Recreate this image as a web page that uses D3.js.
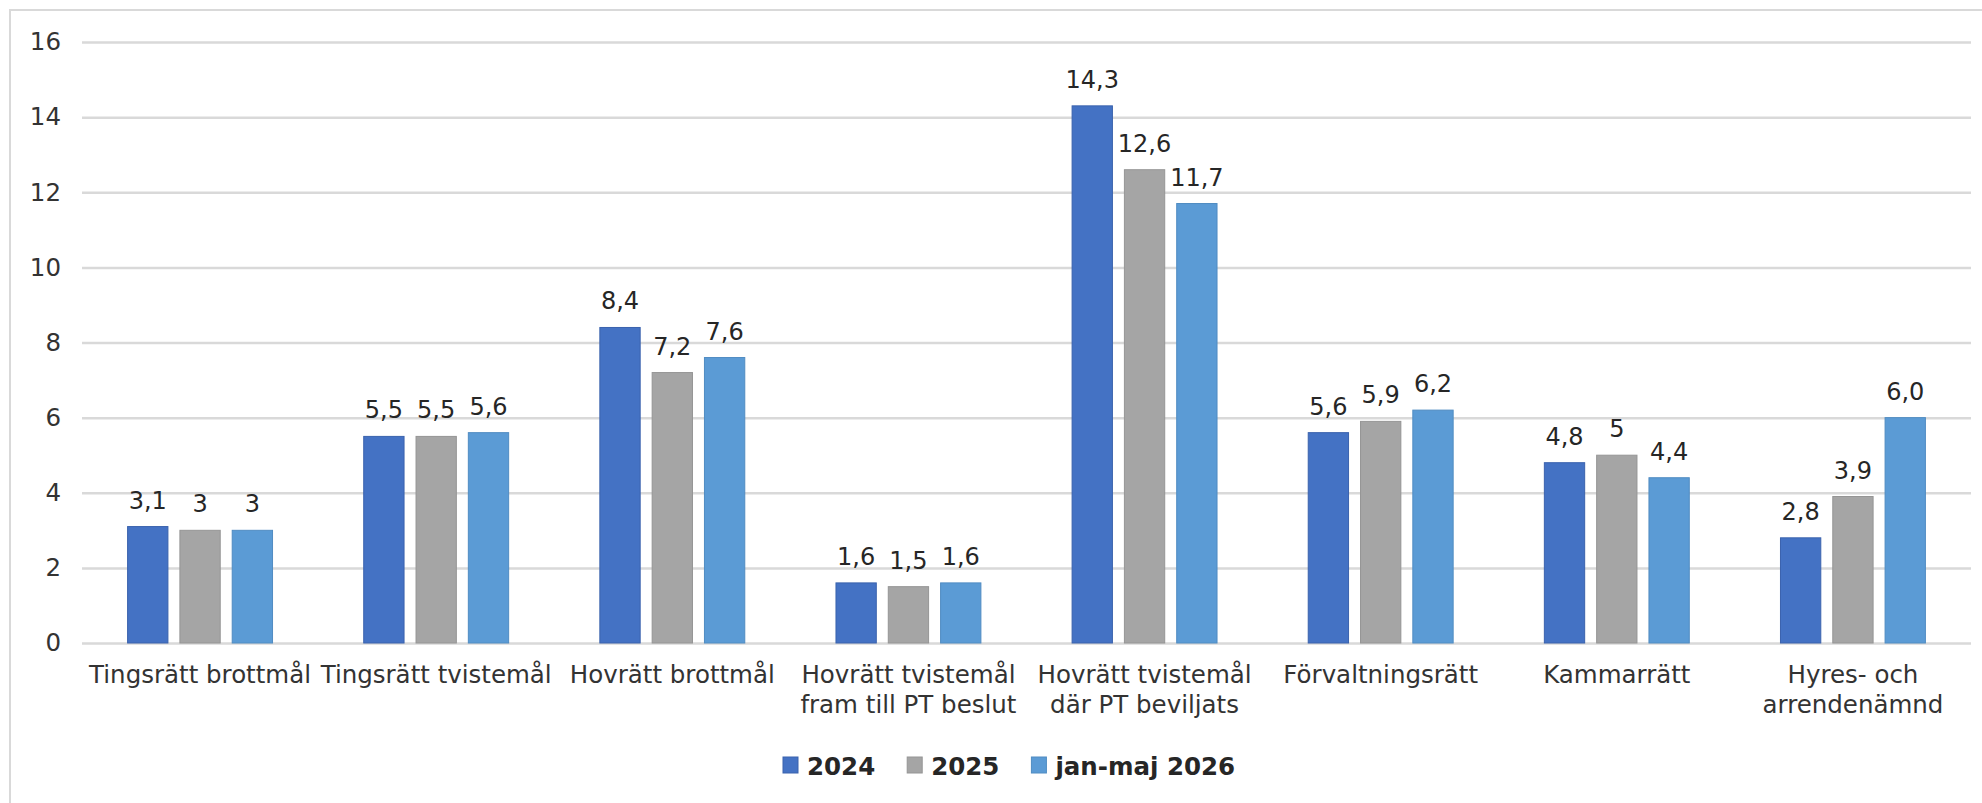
<!DOCTYPE html>
<html>
<head>
<meta charset="utf-8">
<script src="https://cdn.jsdelivr.net/npm/d3@7"></script>
<style>
  body { margin: 0; background: #fff; }
  svg { display: block; font-family: 'DejaVu Sans', sans-serif; }
</style>
</head>
<body>
<svg width="1982" height="803"></svg>
<script>
// categories (line breaks with \n)
let categories = [
  'Tingsrätt brottmål',
  'Tingsrätt tvistemål',
  'Hovrätt brottmål',
  'Hovrätt tvistemål\nfram till PT beslut',
  'Hovrätt tvistemål\ndär PT beviljats',
  'Förvaltningsrätt',
  'Kammarrätt',
  'Hyres- och\narrendenämnd'
]
let seriesNames = ['2024', '2025', 'jan-maj 2026']
// values as they are printed in the chart
let values2024 = ['3,1', '5,5', '8,4', '1,6', '14,3', '5,6', '4,8', '2,8']
let values2025 = ['3', '5,5', '7,2', '1,5', '12,6', '5,9', '5', '3,9']
let values2026 = ['3', '5,6', '7,6', '1,6', '11,7', '6,2', '4,4', '6,0']
let yTicks = [0, 2, 4, 6, 8, 10, 12, 14, 16]
let colors = ['#4472c4', '#a5a5a5', '#5b9bd5']
let strokes = ['#3a62ad', '#959595', '#508cc2']

let allValues = [values2024, values2025, values2026]
let data = categories.map((c, i) => ({
  cat: c,
  vals: allValues.map((s, j) => ({ key: seriesNames[j], idx: j, label: s[i], v: +s[i].replace(',', '.') }))
}))

const svg = d3.select('svg')
const margin = { left: 82, right: 1971, top: 42, bottom: 643 }

// outer frame
svg.append('rect')
  .attr('x', 10).attr('y', 10)
  .attr('width', 2000).attr('height', 900)
  .attr('fill', 'none').attr('stroke', '#d9d9d9').attr('stroke-width', 2)

let x0 = d3.scaleBand()
  .domain(categories)
  .range([margin.left, margin.right])
  .paddingInner(0.382)
  .paddingOuter(0.191)

let x1 = d3.scaleBand()
  .domain(seriesNames)
  .range([0, x0.bandwidth()])
  .paddingInner(0.21)

let y = d3.scaleLinear()
  .domain([0, 16])
  .range([margin.bottom, margin.top])

// grid + y labels
let yAxis = svg.append('g')
  .attr('transform', `translate(${margin.left},0)`)
  .call(d3.axisLeft(y).tickValues(yTicks).tickSize(-(margin.right - margin.left)).tickPadding(21))
yAxis.select('.domain').remove()
yAxis.selectAll('.tick line').attr('stroke', '#d9d9d9').attr('stroke-width', 2.5)
yAxis.selectAll('.tick text')
  .attr('fill', '#333').style('font-size', '24.5px')
  .style('font-family', "'DejaVu Sans', sans-serif")

// bars
let groups = svg.append('g')
  .selectAll('g')
  .data(data)
  .enter()
  .append('g')
  .attr('transform', d => `translate(${x0(d.cat)},0)`)

groups.selectAll('rect')
  .data(d => d.vals)
  .enter()
  .append('rect')
  .attr('x', d => x1(d.key) + 0.5)
  .attr('y', d => y(d.v))
  .attr('width', x1.bandwidth() - 1)
  .attr('height', d => y(0) - y(d.v))
  .attr('fill', d => colors[d.idx])
  .attr('stroke', d => strokes[d.idx])
  .attr('stroke-width', 1)

// labels on the bars
groups.selectAll('text')
  .data(d => d.vals)
  .enter()
  .append('text')
  .attr('x', d => x1(d.key) + x1.bandwidth() / 2)
  .attr('y', d => y(d.v) - 18)
  .attr('text-anchor', 'middle')
  .attr('fill', '#262626')
  .style('font-size', '24px')
  .text(d => d.label)

// category labels
let catLabels = svg.append('g')
  .selectAll('text')
  .data(categories)
  .enter()
  .append('text')
  .attr('x', d => x0(d) + x0.bandwidth() / 2)
  .attr('y', margin.bottom + 40)
  .attr('text-anchor', 'middle')
  .attr('fill', '#333')
  .style('font-size', '24.5px')
catLabels.selectAll('tspan')
  .data(d => d.split('\n'))
  .enter()
  .append('tspan')
  .attr('x', function() { return d3.select(this.parentNode).attr('x') })
  .attr('dy', (d, i) => (i === 0 ? 0 : 30))
  .text(d => d)

// legend
let legend = svg.append('g').attr('transform', 'translate(783,775)')
let lx = 0
seriesNames.forEach((name, i) => {
  legend.append('rect')
    .attr('x', lx).attr('y', -18)
    .attr('width', 15).attr('height', 16)
    .attr('fill', colors[i])
    .attr('stroke', strokes[i])
  let t = legend.append('text')
    .attr('x', lx + 24).attr('y', 0)
    .attr('fill', '#262626')
    .style('font-size', '24.5px')
    .style('font-weight', 'bold')
    .text(name)
  lx += 24 + t.node().getComputedTextLength() + 32
})
</script>
</body>
</html>
